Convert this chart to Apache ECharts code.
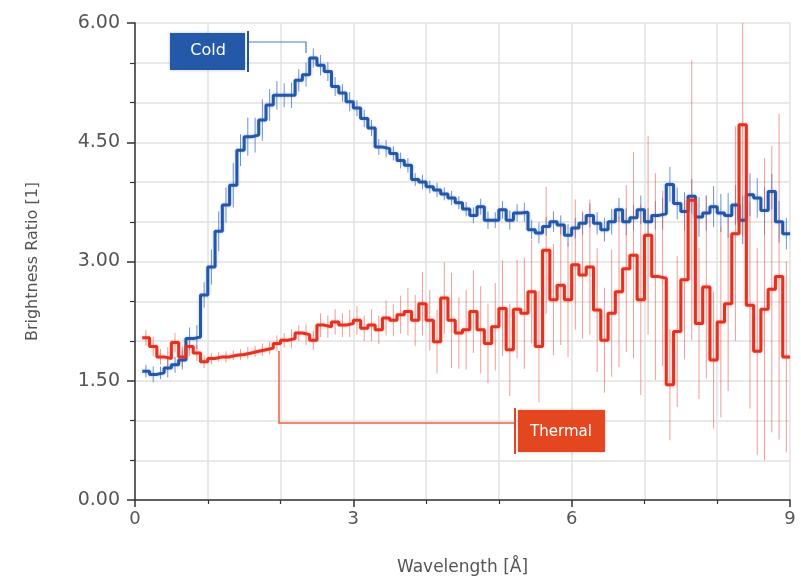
<!DOCTYPE html>
<html>
<head>
<meta charset="utf-8">
<script src="https://cdn.jsdelivr.net/npm/echarts@6/dist/echarts.min.js"></script>
<style>
  html, body { margin: 0; padding: 0; background: #fff; }
  #chart { width: 801px; height: 581px; }
</style>
</head>
<body>
<div id="chart"></div>
<script>
// bins: 0.1 Å wide, first bin starts at 0.1 Å
const binStart = 0.1
const binWidth = 0.1

const coldValues = [
  1.62, 1.58, 1.60, 1.66, 1.70, 1.76, 2.03, 2.05, 2.58, 2.93,
  3.38, 3.71, 3.96, 4.40, 4.57, 4.59, 4.78, 4.97, 5.09, 5.09,
  5.09, 5.28, 5.35, 5.56, 5.47, 5.39, 5.20, 5.12, 5.01, 4.93,
  4.80, 4.68, 4.44, 4.42, 4.36, 4.27, 4.21, 4.03, 4.00, 3.94,
  3.90, 3.85, 3.80, 3.74, 3.66, 3.58, 3.69, 3.52, 3.52, 3.65,
  3.52, 3.61, 3.62, 3.40, 3.36, 3.44, 3.50, 3.46, 3.33, 3.42,
  3.48, 3.58, 3.48, 3.40, 3.50, 3.65, 3.50, 3.55, 3.65, 3.50,
  3.58, 3.60, 3.97, 3.73, 3.63, 3.82, 3.56, 3.61, 3.69, 3.61,
  3.58, 3.71, 3.52, 3.84, 3.80, 3.64, 3.88, 3.50, 3.35
]
const coldErrors = [
  0.08, 0.10, 0.08, 0.12, 0.10, 0.12, 0.14, 0.15, 0.16, 0.22,
  0.25, 0.22, 0.28, 0.20, 0.24, 0.22, 0.26, 0.20, 0.18, 0.15,
  0.16, 0.14, 0.15, 0.12, 0.13, 0.12, 0.12, 0.11, 0.12, 0.10,
  0.11, 0.10, 0.10, 0.11, 0.09, 0.10, 0.09, 0.08, 0.09, 0.08,
  0.09, 0.08, 0.09, 0.08, 0.09, 0.10, 0.10, 0.11, 0.10, 0.11,
  0.12, 0.11, 0.12, 0.12, 0.13, 0.12, 0.13, 0.12, 0.14, 0.13,
  0.14, 0.15, 0.14, 0.15, 0.16, 0.15, 0.17, 0.16, 0.18, 0.17,
  0.18, 0.20, 0.22, 0.20, 0.24, 0.22, 0.25, 0.22, 0.26, 0.24,
  0.28, 0.25, 0.30, 0.27, 0.25, 0.30, 0.22, 0.26, 0.20
]
const thermalValues = [
  2.04, 1.93, 1.80, 1.78, 1.98, 1.80, 1.93, 1.85, 1.74, 1.78,
  1.80, 1.80, 1.82, 1.83, 1.85, 1.87, 1.89, 1.91, 1.97, 2.01,
  2.03, 2.10, 2.08, 2.01, 2.20, 2.18, 2.24, 2.20, 2.22, 2.26,
  2.16, 2.20, 2.14, 2.29, 2.26, 2.33, 2.37, 2.26, 2.47, 2.26,
  1.99, 2.54, 2.26, 2.10, 2.14, 2.37, 2.14, 1.97, 2.18, 2.41,
  1.89, 2.40, 2.35, 2.62, 1.93, 3.14, 2.52, 2.70, 2.52, 2.96,
  2.83, 2.93, 2.39, 2.01, 2.35, 2.62, 2.91, 3.08, 2.52, 3.33,
  2.81, 2.79, 1.45, 2.12, 2.77, 3.77, 2.22, 2.68, 1.76, 2.24,
  2.47, 3.35, 4.72, 2.45, 1.87, 2.40, 2.65, 2.81, 1.80
]
const thermalErrors = [
  0.10, 0.12, 0.10, 0.14, 0.12, 0.13, 0.12, 0.10, 0.08, 0.07,
  0.06, 0.07, 0.06, 0.07, 0.08, 0.07, 0.08, 0.08, 0.10, 0.09,
  0.12, 0.10, 0.13, 0.12, 0.15, 0.14, 0.16, 0.15, 0.17, 0.18,
  0.16, 0.20, 0.18, 0.22, 0.20, 0.24, 0.30, 0.32, 0.40, 0.38,
  0.40, 0.45, 0.60, 0.45, 0.50, 0.52, 0.55, 0.50, 0.55, 0.60,
  0.58, 0.62, 0.70, 0.65, 0.70, 0.80, 0.70, 0.75, 0.72, 0.82,
  0.80, 0.85, 0.78, 0.66, 0.80, 0.95, 1.05, 1.30, 1.20, 1.25,
  1.30, 1.10, 0.70, 0.95, 1.00, 1.76, 0.95, 1.15, 0.86, 1.20,
  1.10, 1.35, 1.40, 1.30, 1.30, 1.90, 1.80, 2.05, 1.20
]

const coldColor = '#2357aa'
const thermalColor = '#e3321f'
const labelFont = 'DejaVu Sans'

// 直方图阶梯：每个 bin 的左边界 + 最后一个右边界
const stepData = (values) => {
  const pts = values.map((v, i) => [+(binStart + i * binWidth).toFixed(2), v])
  pts.push([+(binStart + values.length * binWidth).toFixed(2), values[values.length - 1]])
  return pts
}
// 误差棒：bin 中心，下限，上限
const errorData = (values, errors) =>
  values.map((v, i) => [+(binStart + (i + 0.5) * binWidth).toFixed(3), v - errors[i], v + errors[i]])

const errorBar = (color) => (params, api) => {
  const top = api.coord([api.value(0), api.value(2)])
  const bottom = api.coord([api.value(0), api.value(1)])
  return {
    type: 'line',
    shape: { x1: top[0], y1: top[1], x2: bottom[0], y2: bottom[1] },
    style: { stroke: color, lineWidth: 1 }
  }
}

const chart = echarts.init(document.getElementById('chart'))

const option = {
  animation: false,
  backgroundColor: '#fff',
  grid: { left: 135, right: 11, top: 23, bottom: 81 },
  xAxis: {
    type: 'value',
    min: 0,
    max: 9,
    interval: 3,
    name: 'Wavelength [Å]',
    nameLocation: 'middle',
    nameGap: 59,
    nameTextStyle: { fontFamily: labelFont, fontSize: 17, color: '#555' },
    axisLine: { lineStyle: { color: '#333', width: 1.5 } },
    axisTick: { length: 7, lineStyle: { color: '#333', width: 1.5 } },
    minorTick: { show: true, splitNumber: 3, length: 4, lineStyle: { color: '#333', width: 1.2 } },
    axisLabel: { fontFamily: labelFont, fontSize: 18, color: '#555', margin: 10 },
    splitLine: { show: true, lineStyle: { color: '#e2e2e2', width: 1.5 } },
    minorSplitLine: { show: true, lineStyle: { color: '#e2e2e2', width: 1.5 } }
  },
  yAxis: {
    type: 'value',
    min: 0,
    max: 6,
    interval: 1.5,
    name: 'Brightness Ratio [1]',
    nameLocation: 'middle',
    nameGap: 94,
    nameTextStyle: { fontFamily: labelFont, fontSize: 16, color: '#555' },
    axisLine: { show: true, lineStyle: { color: '#333', width: 1.5 } },
    axisTick: { show: true, length: 8, lineStyle: { color: '#333', width: 1.5 } },
    minorTick: { show: true, splitNumber: 3, length: 5, lineStyle: { color: '#333', width: 1.2 } },
    axisLabel: {
      fontFamily: labelFont, fontSize: 19, color: '#555', margin: 15,
      formatter: (v) => v.toFixed(2)
    },
    splitLine: { show: true, lineStyle: { color: '#e2e2e2', width: 1.5 } },
    minorSplitLine: { show: true, lineStyle: { color: '#e2e2e2', width: 1.5 } }
  },
  series: [
    {
      name: 'Cold errors',
      type: 'custom',
      clip: true,
      z: 1,
      renderItem: errorBar('rgba(60,110,200,0.75)'),
      encode: { x: 0, y: [1, 2] },
      data: errorData(coldValues, coldErrors)
    },
    {
      name: 'Thermal errors',
      type: 'custom',
      clip: true,
      z: 1,
      renderItem: errorBar('rgba(235,90,80,0.6)'),
      encode: { x: 0, y: [1, 2] },
      data: errorData(thermalValues, thermalErrors)
    },
    {
      name: 'Cold',
      type: 'line',
      step: 'end',
      z: 3,
      symbol: 'none',
      clip: true,
      lineStyle: { color: coldColor, width: 3, shadowColor: 'rgba(35,87,170,0.35)', shadowBlur: 3 },
      data: stepData(coldValues)
    },
    {
      name: 'Thermal',
      type: 'line',
      step: 'end',
      z: 4,
      symbol: 'none',
      clip: true,
      lineStyle: { color: thermalColor, width: 3, shadowColor: 'rgba(227,50,31,0.35)', shadowBlur: 3 },
      data: stepData(thermalValues)
    }
  ],
  graphic: [
    // Cold 标签
    {
      type: 'polyline', z: 10,
      shape: { points: [[249, 42], [306, 42], [306, 53]] },
      style: { stroke: '#4d7cc6', lineWidth: 1.2, fill: null }
    },
    {
      type: 'line', z: 10,
      shape: { x1: 248, y1: 31, x2: 248, y2: 72 },
      style: { stroke: coldColor, lineWidth: 2 }
    },
    {
      type: 'rect', z: 10,
      shape: { x: 170, y: 33, width: 75, height: 37 },
      style: { fill: '#2459a9', shadowColor: 'rgba(0,0,0,0.25)', shadowBlur: 3 }
    },
    {
      type: 'text', z: 11, x: 208, y: 51,
      style: { text: 'Cold', fill: '#fff', font: '16px "DejaVu Sans"', align: 'center', verticalAlign: 'middle' }
    },
    // Thermal 标签
    {
      type: 'polyline', z: 10,
      shape: { points: [[279, 351], [279, 423], [514, 423]] },
      style: { stroke: '#e8603f', lineWidth: 1.5, fill: null }
    },
    {
      type: 'line', z: 10,
      shape: { x1: 515, y1: 408, x2: 515, y2: 454 },
      style: { stroke: '#e4461f', lineWidth: 2 }
    },
    {
      type: 'rect', z: 10,
      shape: { x: 518, y: 410, width: 87, height: 42 },
      style: { fill: '#e4461f', shadowColor: 'rgba(0,0,0,0.25)', shadowBlur: 3 }
    },
    {
      type: 'text', z: 11, x: 561, y: 432,
      style: { text: 'Thermal', fill: '#fff', font: '15px "DejaVu Sans"', align: 'center', verticalAlign: 'middle' }
    }
  ]
}

chart.setOption(option)
window.addEventListener('resize', () => chart.resize())
</script>
</body>
</html>
